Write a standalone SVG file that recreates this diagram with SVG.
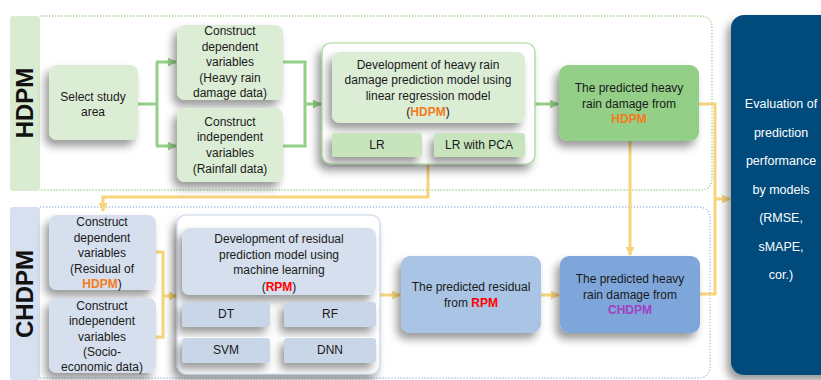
<svg xmlns="http://www.w3.org/2000/svg" width="821" height="380" viewBox="0 0 821 380">
<defs>
<filter id="sh" x="-30%" y="-30%" width="160%" height="170%">
<feDropShadow dx="-4" dy="6" stdDeviation="4.5" flood-color="#000" flood-opacity="0.4"/>
</filter>
<marker id="ag" viewBox="0 0 10 10" refX="9" refY="5" markerWidth="3" markerHeight="3" orient="auto" markerUnits="strokeWidth"><path d="M0,0 L10,5 L0,10 z" fill="#93cf86"/></marker>
<marker id="ay" viewBox="0 0 10 10" refX="9" refY="5" markerWidth="3" markerHeight="3" orient="auto" markerUnits="strokeWidth"><path d="M0,0 L10,5 L0,10 z" fill="#f6d47a"/></marker>
</defs>
<style>
text{font-family:"Liberation Sans",Arial,sans-serif;font-size:12px;fill:#1a1a1a;text-anchor:middle}
.lbl{font-size:24px;font-weight:bold;fill:#111}
.ev{fill:#fff;font-size:12.5px}
.o{fill:#f47b20;font-weight:bold}
.r{fill:#ff0000;font-weight:bold}
.p{fill:#a23fc4;font-weight:bold}
.g1{fill:#dcedd6}
.g2{fill:#c7e4bd}
.g3{fill:#93cf86}
.b1{fill:#d5dfed}
.b2{fill:#c9d6e8}
.b3{fill:#a9c4e5}
.b4{fill:#7ea6da}
.gl{fill:none;stroke:#93cf86;stroke-width:3}
.yl{fill:none;stroke:#f6d47a;stroke-width:3}
</style>

<g id="panel-hdpm">
<rect x="10" y="16" width="30" height="175" rx="3" fill="#d9ecd2"/>
<path d="M40,16 H700 Q712,16 712,28 V178 Q712,190 700,190 H40" fill="none" stroke="#9fd08f" stroke-width="1.3" stroke-dasharray="1.3 1.7"/>
<text class="lbl" transform="translate(33,103) rotate(-90)">HDPM</text>
</g>
<g id="panel-chdpm">
<rect x="10" y="207" width="30" height="173" rx="3" fill="#d6e0ee"/>
<path d="M40,207 H698 Q710,207 710,219 V366 Q710,378 698,378 H40" fill="none" stroke="#a9c0e0" stroke-width="1.3" stroke-dasharray="1.3 1.7"/>
<text class="lbl" transform="translate(33,294) rotate(-90)">CHDPM</text>
</g>

<g id="connectors">
<path class="gl" d="M138,104 H157"/>
<path class="gl" d="M157,62 V146"/>
<path class="gl" d="M156,62 H176" marker-end="url(#ag)"/>
<path class="gl" d="M156,146 H176" marker-end="url(#ag)"/>
<path class="gl" d="M283,62 H305 V146 H283"/>
<path class="gl" d="M305,104 H321" marker-end="url(#ag)"/>
<path class="gl" d="M535,104 H558" marker-end="url(#ag)"/>
<path class="yl" d="M428,164 V197 H103 V211" marker-end="url(#ay)"/>
<path class="yl" d="M630,141 V255" marker-end="url(#ay)"/>
<path class="yl" d="M699,104 H715 V294 H700"/>
<path class="yl" d="M715,199 H730" marker-end="url(#ay)"/>
<path class="yl" d="M156,252 H163 V337 H156"/>
<path class="yl" d="M163,296 H177" marker-end="url(#ay)"/>
<path class="yl" d="M380,295 H400" marker-end="url(#ay)"/>
<path class="yl" d="M541,295 H559" marker-end="url(#ay)"/>
</g>

<g id="select-study-area">
<rect class="g1" x="49" y="65" width="89" height="75" rx="8" filter="url(#sh)"/>
<text x="93" y="101">Select study</text>
<text x="93" y="116">area</text>
</g>
<g id="construct-dep-hdpm">
<rect class="g1" x="177" y="25" width="106" height="75" rx="8" filter="url(#sh)"/>
<text x="230" y="35">Construct</text>
<text x="230" y="51">dependent</text>
<text x="230" y="66">variables</text>
<text x="230" y="82">(Heavy rain</text>
<text x="230" y="97">damage data)</text>
</g>
<g id="construct-indep-hdpm">
<rect class="g1" x="177" y="108" width="106" height="74" rx="8" filter="url(#sh)"/>
<text x="230" y="126">Construct</text>
<text x="230" y="141">independent</text>
<text x="230" y="157">variables</text>
<text x="230" y="173">(Rainfall data)</text>
</g>
<g id="hdpm-development">
<rect x="322" y="43" width="213" height="121" rx="9" fill="#fff" stroke="#a3d394" stroke-width="1.2" filter="url(#sh)"/>
<rect class="g1" x="332" y="52" width="193" height="71" rx="8" filter="url(#sh)"/>
<text x="428" y="69">Development of heavy rain</text>
<text x="428" y="84">damage prediction model using</text>
<text x="428" y="100">linear regression model</text>
<text x="428" y="116">(<tspan class="o">HDPM</tspan>)</text>
</g>
<g id="lr">
<rect class="g2" x="332" y="133" width="90" height="24" rx="3" filter="url(#sh)"/>
<text x="377" y="149">LR</text>
</g>
<g id="lr-pca">
<rect class="g2" x="434" y="133" width="91" height="24" rx="3" filter="url(#sh)"/>
<text x="479" y="149">LR with PCA</text>
</g>
<g id="predicted-hdpm">
<rect class="g3" x="559" y="65" width="140" height="76" rx="9" filter="url(#sh)"/>
<text x="629" y="92">The predicted heavy</text>
<text x="629" y="108">rain damage from</text>
<text x="629" y="123" class="o">HDPM</text>
</g>

<g id="construct-dep-chdpm">
<rect class="b1" x="49" y="215" width="107" height="75" rx="8" filter="url(#sh)"/>
<text x="102" y="226">Construct</text>
<text x="102" y="242">dependent</text>
<text x="102" y="257">variables</text>
<text x="102" y="273">(Residual of</text>
<text x="102" y="288"><tspan class="o">HDPM</tspan>)</text>
</g>
<g id="construct-indep-chdpm">
<rect class="b1" x="49" y="298" width="107" height="75" rx="8" filter="url(#sh)"/>
<text x="102" y="310">Construct</text>
<text x="102" y="325">independent</text>
<text x="102" y="341">variables</text>
<text x="102" y="356">(Socio-</text>
<text x="102" y="371">economic data)</text>
</g>
<g id="rpm-development">
<rect x="177" y="215" width="203" height="159" rx="9" fill="#fff" stroke="#c6d4e8" stroke-width="1.2" filter="url(#sh)"/>
<rect class="b1" x="182" y="228" width="194" height="67" rx="8" filter="url(#sh)"/>
<text x="279" y="243">Development of residual</text>
<text x="279" y="259">prediction model using</text>
<text x="279" y="274">machine learning</text>
<text x="279" y="291">(<tspan class="r">RPM</tspan>)</text>
</g>
<g id="dt">
<rect class="b2" x="182" y="302" width="88" height="25" rx="3" filter="url(#sh)"/>
<text x="226" y="318">DT</text>
</g>
<g id="rf">
<rect class="b2" x="284" y="302" width="92" height="25" rx="3" filter="url(#sh)"/>
<text x="330" y="318">RF</text>
</g>
<g id="svm">
<rect class="b2" x="182" y="338" width="88" height="25" rx="3" filter="url(#sh)"/>
<text x="226" y="354">SVM</text>
</g>
<g id="dnn">
<rect class="b2" x="284" y="338" width="92" height="25" rx="3" filter="url(#sh)"/>
<text x="330" y="354">DNN</text>
</g>
<g id="predicted-residual">
<rect class="b3" x="401" y="256" width="140" height="77" rx="9" filter="url(#sh)"/>
<text x="471" y="291">The predicted residual</text>
<text x="471" y="307">from <tspan class="r">RPM</tspan></text>
</g>
<g id="predicted-chdpm">
<rect class="b4" x="560" y="256" width="140" height="77" rx="9" filter="url(#sh)"/>
<text x="630" y="283">The predicted heavy</text>
<text x="630" y="299">rain damage from</text>
<text x="630" y="314" class="p">CHDPM</text>
</g>

<g id="evaluation">
<rect x="731" y="15" width="110" height="360" rx="13" fill="#004b7c" filter="url(#sh)"/>
<text class="ev" x="781" y="108">Evaluation of</text>
<text class="ev" x="781" y="137">prediction</text>
<text class="ev" x="781" y="165">performance</text>
<text class="ev" x="781" y="194">by models</text>
<text class="ev" x="781" y="222">(RMSE,</text>
<text class="ev" x="781" y="251">sMAPE,</text>
<text class="ev" x="781" y="279">cor.)</text>
</g>
</svg>
